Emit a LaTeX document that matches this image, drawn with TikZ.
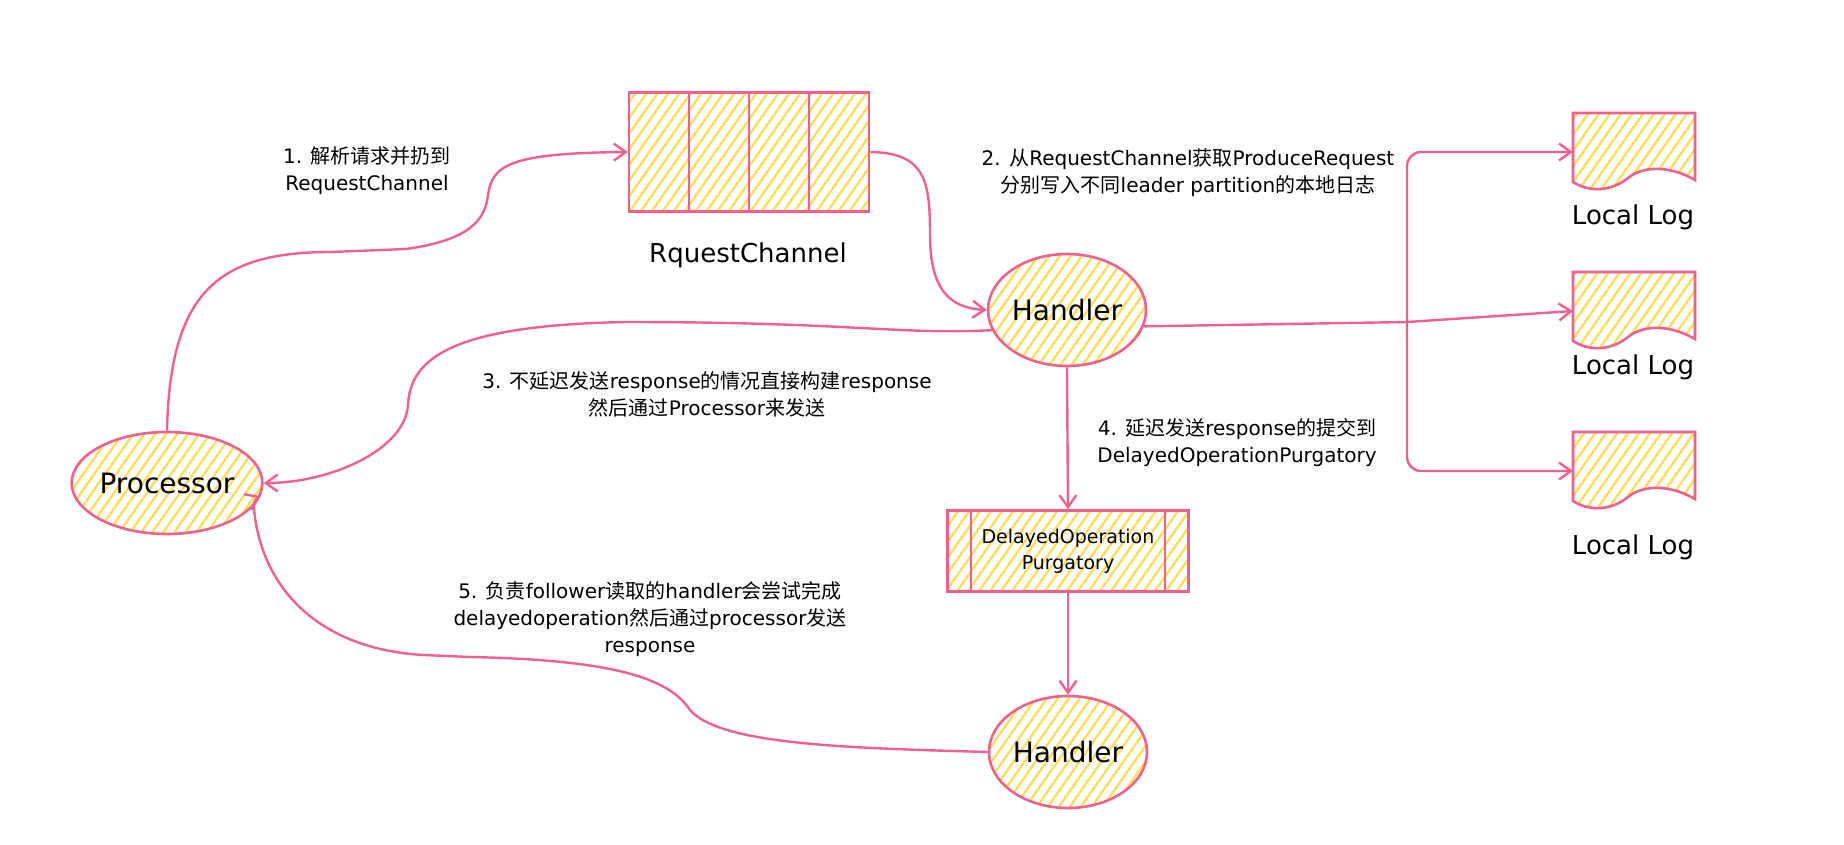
\documentclass[tikz,border=0pt]{standalone}
\usepackage{fontspec}
\setmainfont{DejaVu Sans}
\newfontfamily\cjk{Noto Sans CJK SC}
\usetikzlibrary{shapes.geometric,arrows.meta,patterns.meta}
\definecolor{sketchpink}{HTML}{F2608C}
\definecolor{hatchyellow}{HTML}{FFDD55}
\newcommand{\zh}[1]{{\cjk #1}}
\tikzset{
	hatched/.style={draw=sketchpink, line width=2.6pt, pattern={Lines[angle=55,distance=9pt,line width=2.3pt]}, pattern color=hatchyellow},
	blob/.style={hatched, ellipse, minimum width=158pt, minimum height=112pt, inner sep=0pt, font=\fontsize{28pt}{32pt}\selectfont},
	cell/.style={hatched, rectangle, minimum width=60pt, minimum height=119pt, inner sep=0pt},
	link/.style={draw=sketchpink, line width=2.4pt, -{Straight Barb[length=12pt,width=17pt]}},
	note/.style={align=center, font=\fontsize{20pt}{27pt}\selectfont, inner sep=0pt}
}
\begin{document}
\begin{tikzpicture}[x=1pt,y=-1pt]
	\useasboundingbox (0,0) rectangle (1844,844);

	\foreach \i in {1,...,4}
		\node[cell] (q\i) at ({599+60*\i},152) {};
	\node[font=\fontsize{26pt}{30pt}\selectfont] (qlabel) at (748,255) {RquestChannel};

	\node[blob] (hand1) at (1067,310) {Handler};
	\node[blob] (hand2) at (1068,752) {Handler};
	\node[blob, minimum width=162pt, minimum height=102pt] (proc) at (167,483) {Processor};
	\node[hatched, rectangle, minimum width=241pt, minimum height=81pt, align=center, font=\fontsize{19pt}{26pt}\selectfont] (purg) at (1068,551) {DelayedOperation\\Purgatory};
	\draw[sketchpink, line width=2.4pt] ([xshift=25pt]purg.north west) -- ([xshift=25pt]purg.south west);
	\draw[sketchpink, line width=2.4pt] ([xshift=-25pt]purg.north east) -- ([xshift=-25pt]purg.south east);

	\foreach \y/\lab/\i in {113/217/1, 272/367/2, 432/547/3} {
		\draw[hatched] (1573,\y) -- (1695,\y) -- (1695,\y+67) .. controls (1665,\y+50) and (1640,\y+55) .. (1628,\y+65) .. controls (1612,\y+78) and (1590,\y+80) .. (1573,\y+69) -- cycle;
		\coordinate (log\i) at (1573,\y+39);
		\node[font=\fontsize{26pt}{30pt}\selectfont] (logtext\i) at (1633,\lab) {Local Log};
	}

	\draw[link] (proc.north) .. controls (170,290) and (220,252) .. (331,252) -- (406,249) .. controls (470,240) and (485,220) .. (488,195) .. controls (492,165) and (510,153) .. (q1.west);
	\draw[link] (q4.east) .. controls (925,153) and (930,180) .. (930,235) .. controls (930,290) and (950,308) .. (hand1.west);

	\coordinate (split) at (1407,322);
	\draw[sketchpink, line width=2.4pt] (hand1.-12) -- (split);
	\draw[link, rounded corners=14pt] (split) |- (log1);
	\draw[link] (split) -- (log2);
	\draw[link, rounded corners=14pt] (split) |- (log3);

	\draw[link] (hand1.195) .. controls (900,335) and (850,322) .. (627,322) .. controls (460,325) and (410,355) .. (408,405) .. controls (405,450) and (330,483) .. (proc.east);
	\draw[link] (hand1.south) -- (purg.north);
	\draw[link] (purg.south) -- (hand2.north);
	\draw[link] (hand2.west) .. controls (850,748) and (720,745) .. (690,710) .. controls (670,680) and (620,660) .. (470,657) -- (424,655) .. controls (330,650) and (270,600) .. (256,524) .. controls (254,510) and (252,500) .. (proc.-8);

	\node[note] (step1) at (367,171) {1. \zh{解析请求并扔到}\\RequestChannel};
	\node[note] (step2) at (1188,173) {2. \zh{从}RequestChannel\zh{获取}ProduceRequest\\\zh{分别写入不同}leader partition\zh{的本地日志}};
	\node[note] (step3) at (707,394) {3. \zh{不延迟发送}response\zh{的情况直接构建}response\\\zh{然后通过}Processor\zh{来发送}};
	\node[note] (step4) at (1237,443) {4. \zh{延迟发送}response\zh{的提交到}\\DelayedOperationPurgatory};
	\node[note] (step5) at (650,619) {5. \zh{负责}follower\zh{读取的}handler\zh{会尝试完成}\\delayedoperation\zh{然后通过}processor\zh{发送}\\response};

\end{tikzpicture}
\end{document}
